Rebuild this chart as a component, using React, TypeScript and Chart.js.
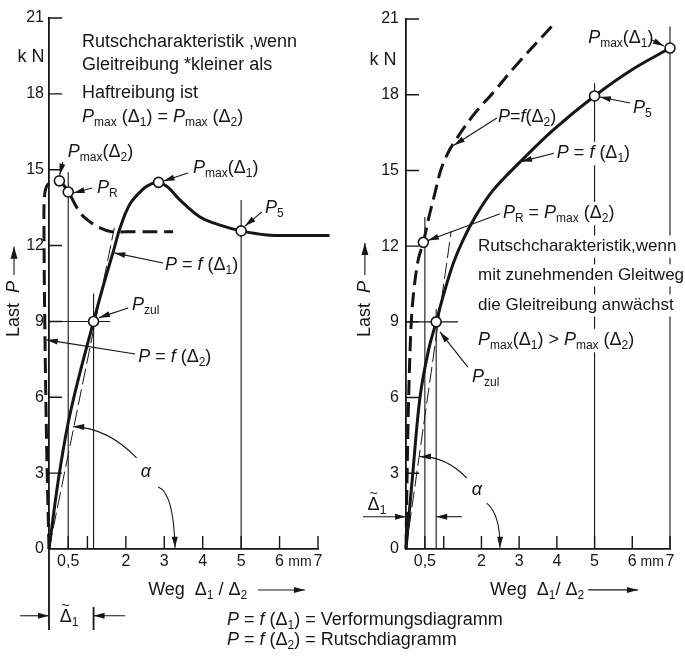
import React, { useEffect, useRef } from "react";
import { Chart, registerables } from "chart.js";
Chart.register(...registerables);

// ---------------- data ----------------
const X_TICKS = [0.5, 1, 2, 3, 4, 5, 6, 7];
const X_TICK_LABELS = ["0,5", "", "2", "3", "4", "5", "6", "7"];
const Y_TICKS = [0, 3, 6, 9, 12, 15, 18, 21];
const Y_TICK_LABELS = ["0", "3", "6", "9", "12", "15", "18", "21"];

// left: Gleitreibung kleiner als Haftreibung
const L_F1_X = [0, 0.24, 0.5, 0.76, 1.16, 1.41, 1.68, 1.85, 2.11, 2.46, 2.65, 2.85, 3.1, 3.41, 3.93, 4.45, 5.0, 5.67, 6.5, 7.3];
const L_F1_Y = [0, 2.7, 5.0, 6.7, 9.0, 10.4, 11.8, 12.7, 13.65, 14.25, 14.43, 14.5, 14.3, 13.8, 13.13, 12.81, 12.58, 12.42, 12.4, 12.4];
const L_F2_X = [0, -0.06, -0.11, -0.13, -0.12, -0.05, 0.1, 0.27, 0.5, 0.81, 1.1, 1.33, 1.6, 2.2, 3.23];
const L_F2_Y = [0, 4, 9, 12.5, 13.9, 14.38, 14.52, 14.56, 14.12, 13.3, 12.9, 12.7, 12.56, 12.55, 12.55];
const L_TAN_X = [0, 1.7];
const L_TAN_Y = [0, 12.7];
const L_PTS_X = [0.27, 0.5, 2.85, 5, 1.16];
const L_PTS_Y = [14.56, 14.12, 14.5, 12.58, 9];
const L_VLINE_X = [0.5, 1.16, 5];
const L_VLINE_TOP = [14.9, 10.1, 13.8];
const L_HLINE = [9, 1.59]; // [P, end of line in mm]

// right: Gleitreibung waechst mit dem Gleitweg
const R_F1_X = [0, 0.18, 0.37, 0.6, 0.8, 1.0, 1.25, 1.5, 1.85, 2.3, 3.0, 3.9, 5.0, 6.0, 7.0, 7.4];
const R_F1_Y = [0, 3, 6, 7.9, 9.0, 10.1, 11.3, 12.2, 13.2, 14.2, 15.3, 16.6, 17.95, 19.0, 19.85, 20.2];
const R_F2_X = [0, 0.03, 0.07, 0.14, 0.22, 0.33, 0.46, 0.6, 0.75, 0.92, 1.08, 1.25, 1.79, 2.32, 2.94, 3.86];
const R_F2_Y = [0, 3, 6, 9, 10.4, 11.5, 12.15, 13.1, 14.0, 15.0, 15.6, 16.05, 17.2, 18.1, 19.2, 20.7];
const R_TAN_X = [0, 1.2];
const R_TAN_Y = [0, 12.6];
const R_PTS_X = [0.8, 0.46, 5, 7];
const R_PTS_Y = [9, 12.15, 17.95, 19.85];
const R_VLINE_X = [0.5, 0.8, 5, 7];
const R_VLINE_TOP = [13.15, 9.5, 18.45, 20.7];
const R_HLINE = [9, 1.38];

// ---------------- styles / layout ----------------
const FONT = '"Liberation Sans", Arial, sans-serif';
const INK = "#161616";
const TXT = 18;

type Lbl = { t: string; x: number; y: number; c?: boolean; k?: boolean; sz?: number; tl?: boolean };
type Arr = { f: number[]; t: number[]; v?: number[] };

const LEFT_LABELS: Lbl[] = [
  { t: "Rutschcharakteristik ,wenn", x: 0.86, y: 20.05 },
  { t: "Gleitreibung *kleiner als", x: 0.86, y: 19.14 },
  { t: "Haftreibung ist", x: 0.86, y: 18.03 },
  { t: "{i:P}{s:max} (Δ{s:1}) = {i:P}{s:max} (Δ{s:2})", x: 0.86, y: 17.08 },
  { t: "{i:P}{s:max}(Δ{s:2})", x: 0.49, y: 15.7 },
  { t: "{i:P}{s:R}", x: 1.25, y: 14.28 },
  { t: "{i:P}{s:max}(Δ{s:1})", x: 3.75, y: 15.07 },
  { t: "{i:P}{s:5}", x: 5.62, y: 13.49 },
  { t: "{i:P} = {i:f} (Δ{s:1})", x: 3.02, y: 11.23 },
  { t: "{i:P}{s:zul}", x: 2.16, y: 9.65 },
  { t: "{i:P} = {i:f} (Δ{s:2})", x: 2.32, y: 7.59 },
  { t: "{i:α}", x: 2.52, y: 3.05, c: true },
  { t: "k N", x: -0.47, y: 19.46, c: true },
  { t: "Δ{s:1}", x: 0.52, y: -2.69, c: true, tl: true },
  { t: "mm", x: 6.53, y: -0.51, c: true, sz: 14 },
  { t: "Weg  Δ{s:1} / Δ{s:2}", x: 2.58, y: -1.62 },
  { t: "{i:P} = {i:f} (Δ{s:1}) = Verformungsdiagramm", x: 4.63, y: -2.81 },
  { t: "{i:P} = {i:f} (Δ{s:2}) = Rutschdiagramm", x: 4.63, y: -3.6 },
];
const LEFT_ARROWS: Arr[] = [
  { f: [0.36, 15.3], t: [0.28, 14.8] },
  { f: [1.12, 14.28], t: [0.64, 14.08] },
  { f: [3.62, 14.87], t: [2.98, 14.55] },
  { f: [5.54, 13.33], t: [5.1, 12.77] },
  { f: [2.97, 11.31], t: [1.7, 11.71] },
  { f: [2.06, 9.53], t: [1.3, 9.15] },
  { f: [2.24, 7.71], t: [-0.06, 8.27] },
  { f: [2.28, 3.6], v: [1.5, 4.5], t: [0.63, 4.84] },
  { f: [2.84, 2.45], v: [3.15, 1.74], t: [3.28, 0.05] },
  { f: [-0.75, -2.64], t: [0, -2.64] },
  { f: [1.98, -2.64], t: [1.16, -2.64] },
  { f: [5.44, -1.62], t: [6.66, -1.62] },
];
const LEFT_EXT = [
  [0, 0, 0, -3.2],
  [1.16, -2.29, 1.16, -3.2],
];

const RIGHT_LABELS: Lbl[] = [
  { t: "{i:P}{s:max}(Δ{s:1})", x: 4.83, y: 20.25 },
  { t: "{i:P}{s:5}", x: 6.02, y: 17.47 },
  { t: "{i:P} = {i:f} (Δ{s:1})", x: 4.0, y: 15.69, k: true },
  { t: "{i:P}={i:f}(Δ{s:2})", x: 2.44, y: 17.12 },
  { t: "{i:P}{s:R} = {i:P}{s:max} (Δ{s:2})", x: 2.57, y: 13.31, k: true },
  { t: "{i:P}{s:zul}", x: 1.75, y: 6.81 },
  { t: "Rutschcharakteristik,wenn", x: 1.91, y: 12.0, k: true, sz: 17 },
  { t: "mit zunehmenden Gleitweg", x: 1.91, y: 10.86, k: true, sz: 17 },
  { t: "die Gleitreibung anwächst", x: 1.91, y: 9.67, k: true, sz: 17 },
  { t: "{i:P}{s:max}(Δ{s:1}) > {i:P}{s:max} (Δ{s:2})", x: 1.91, y: 8.28, k: true },
  { t: "{i:α}", x: 1.88, y: 2.34, c: true },
  { t: "Δ{s:1}", x: -0.77, y: 1.74, c: true, tl: true },
  { t: "k N", x: -0.61, y: 19.37, c: true },
  { t: "mm", x: 6.53, y: -0.51, c: true, sz: 14 },
  { t: "Weg  Δ{s:1}/ Δ{s:2}", x: 2.23, y: -1.62 },
];
const RIGHT_ARROWS: Arr[] = [
  { f: [6.52, 20.17], t: [6.84, 19.93] },
  { f: [5.94, 17.67], t: [5.14, 17.91] },
  { f: [3.95, 15.69], t: [3.05, 15.35] },
  { f: [2.41, 17.08], t: [1.27, 16.0] },
  { f: [2.55, 13.31], t: [0.58, 12.22] },
  { f: [1.64, 7.21], t: [0.9, 8.6] },
  { f: [1.61, 2.81], v: [1.03, 3.45], t: [0.37, 3.66] },
  { f: [2.14, 1.82], v: [2.41, 1.15], t: [2.49, 0.05] },
  { f: [-1.14, 1.28], t: [0, 1.28] },
  { f: [1.48, 1.28], t: [0.8, 1.28] },
  { f: [4.83, -1.62], t: [6.15, -1.62] },
];

type Panel = {
  id: string;
  f1x: number[]; f1y: number[]; f2x: number[]; f2y: number[];
  tx: number[]; ty: number[]; px: number[]; py: number[];
  vx: number[]; vtop: number[]; h: number[];
  pad: { left: number; right: number; top: number; bottom: number };
  yWidth: number; yPad: number;
  labels: Lbl[]; arrows: Arr[]; ext: number[][];
  yTitle: number[]; // x, start, tip
};

const LEFT: Panel = {
  id: "L", f1x: L_F1_X, f1y: L_F1_Y, f2x: L_F2_X, f2y: L_F2_Y,
  tx: L_TAN_X, ty: L_TAN_Y, px: L_PTS_X, py: L_PTS_Y,
  vx: L_VLINE_X, vtop: L_VLINE_TOP, h: L_HLINE,
  pad: { left: 0, right: 367, top: 18, bottom: 0 }, yWidth: 49, yPad: 5,
  labels: LEFT_LABELS, arrows: LEFT_ARROWS, ext: LEFT_EXT,
  yTitle: [-0.91, 8.38, 11.95],
};
const RIGHT: Panel = {
  id: "R", f1x: R_F1_X, f1y: R_F1_Y, f2x: R_F2_X, f2y: R_F2_Y,
  tx: R_TAN_X, ty: R_TAN_Y, px: R_PTS_X, py: R_PTS_Y,
  vx: R_VLINE_X, vtop: R_VLINE_TOP, h: R_HLINE,
  pad: { left: 366, right: 15, top: 19, bottom: 0 }, yWidth: 40, yPad: 7,
  labels: RIGHT_LABELS, arrows: RIGHT_ARROWS, ext: [],
  yTitle: [-1.09, 8.4, 12.12],
};

// ---------------- rich text helpers ----------------
type Seg = { t: string; i?: boolean; s?: boolean };
function parseRich(src: string): Seg[] {
  const out: Seg[] = [];
  const re = /\{([is]):([^}]*)\}/g;
  let last = 0;
  let m: RegExpExecArray | null;
  while ((m = re.exec(src))) {
    if (m.index > last) out.push({ t: src.slice(last, m.index) });
    out.push({ t: m[2], i: m[1] === "i", s: m[1] === "s" });
    last = re.lastIndex;
  }
  if (last < src.length) out.push({ t: src.slice(last) });
  return out;
}
function segFont(s: Seg, size: number) {
  const sz = s.s ? Math.round(size * 0.68) : size;
  return `${s.i ? "italic " : ""}${sz}px ${FONT}`;
}
function drawRich(ctx: CanvasRenderingContext2D, src: string, x: number, y: number, size: number, center = false, knock = false, tilde = false) {
  const segs = parseRich(src);
  let w = 0;
  for (const s of segs) { ctx.font = segFont(s, size); w += ctx.measureText(s.t).width; }
  let cx = center ? x - w / 2 : x;
  if (knock) { ctx.fillStyle = "#fff"; ctx.fillRect(cx - 3, y - size * 0.62, w + 6, size * 1.3); }
  ctx.fillStyle = INK; ctx.textBaseline = "middle"; ctx.textAlign = "left";
  if (tilde) {
    ctx.font = segFont(segs[0], size);
    const gw = ctx.measureText(segs[0].t.charAt(0)).width;
    ctx.font = `${Math.round(size * 0.8)}px ${FONT}`;
    ctx.textAlign = "center";
    ctx.fillText("~", cx + gw / 2, y - size * 0.62);
    ctx.textAlign = "left";
  }
  for (const s of segs) {
    ctx.font = segFont(s, size);
    ctx.fillText(s.t, cx, y + (s.s ? size * 0.33 : 0));
    cx += ctx.measureText(s.t).width;
  }
  return w;
}
function head(ctx: CanvasRenderingContext2D, x: number, y: number, ang: number, len = 11, hw = 3) {
  const bx = x - len * Math.cos(ang), by = y - len * Math.sin(ang);
  const nx = -Math.sin(ang) * hw, ny = Math.cos(ang) * hw;
  ctx.beginPath(); ctx.moveTo(x, y); ctx.lineTo(bx + nx, by + ny); ctx.lineTo(bx - nx, by - ny); ctx.closePath();
  ctx.fillStyle = INK; ctx.fill();
}

function makePlugin(p: Panel) {
  return {
    id: "annot" + p.id,
    beforeDatasetsDraw(chart: any) {
      const ctx: CanvasRenderingContext2D = chart.ctx;
      const X = (v: number) => chart.scales.x.getPixelForValue(v);
      const Y = (v: number) => chart.scales.y.getPixelForValue(v);
      ctx.save();
      ctx.strokeStyle = INK; ctx.lineWidth = 1.4;
      ctx.beginPath();
      for (const t of Y_TICKS) if (t > 0) { ctx.moveTo(X(0), Y(t)); ctx.lineTo(X(0) + 13, Y(t)); }
      for (const t of X_TICKS) { ctx.moveTo(X(t), Y(0)); ctx.lineTo(X(t), Y(0) - 13); }
      ctx.stroke();
      ctx.lineWidth = 1.8;
      ctx.beginPath();
      for (const e of p.ext) { ctx.moveTo(X(e[0]), Y(e[1])); ctx.lineTo(X(e[2]), Y(e[3])); }
      ctx.stroke();
      ctx.restore();
    },
    afterDatasetsDraw(chart: any) {
      const ctx: CanvasRenderingContext2D = chart.ctx;
      const X = (v: number) => chart.scales.x.getPixelForValue(v);
      const Y = (v: number) => chart.scales.y.getPixelForValue(v);
      ctx.save();
      ctx.strokeStyle = INK; ctx.lineWidth = 1.1;
      for (const a of p.arrows) {
        const fx = X(a.f[0]), fy = Y(a.f[1]), tx = X(a.t[0]), ty = Y(a.t[1]);
        ctx.beginPath(); ctx.moveTo(fx, fy);
        let ang;
        if (a.v) {
          const vx = X(a.v[0]), vy = Y(a.v[1]);
          const cx = 2 * vx - (fx + tx) / 2, cy = 2 * vy - (fy + ty) / 2;
          ctx.quadraticCurveTo(cx, cy, tx, ty);
          ang = Math.atan2(ty - cy, tx - cx);
        } else {
          ctx.lineTo(tx, ty);
          ang = Math.atan2(ty - fy, tx - fx);
        }
        ctx.stroke();
        head(ctx, tx, ty, ang);
      }
      for (const l of p.labels) drawRich(ctx, l.t, X(l.x), Y(l.y), l.sz ?? TXT, !!l.c, !!l.k, !!l.tl);
      // y axis title
      const [yx, y0, tip] = p.yTitle;
      ctx.save();
      ctx.translate(X(yx), Y(y0));
      ctx.rotate(-Math.PI / 2);
      const w = drawRich(ctx, "Last  {i:P}", 0, 0, TXT);
      const d = Y(y0) - Y(tip);
      ctx.lineWidth = 1.1;
      ctx.beginPath(); ctx.moveTo(w + 6, 0); ctx.lineTo(d, 0); ctx.stroke();
      head(ctx, d, 0, 0, 12, 3.5);
      ctx.restore();
      ctx.restore();
    },
  };
}

function curve(xs: number[], ys: number[], extra: any) {
  return {
    type: "scatter",
    data: xs.map((x, i) => ({ x, y: ys[i] })),
    showLine: true, pointRadius: 0, pointHoverRadius: 0, clip: false,
    borderColor: INK, backgroundColor: INK, ...extra,
  };
}

function buildConfig(p: Panel): any {
  const datasets: any[] = [];
  datasets.push({
    type: "scatter", data: p.px.map((x, i) => ({ x, y: p.py[i] })), showLine: false,
    pointRadius: 5, pointBorderWidth: 1.6, pointBackgroundColor: "#fff", pointBorderColor: INK, order: 0, clip: false,
  });
  datasets.push(curve(p.f1x, p.f1y, { borderWidth: 3, tension: 0.35, order: 1 }));
  datasets.push(curve(p.f2x, p.f2y, { borderWidth: 3, tension: 0.35, borderDash: [15, 7], order: 1 }));
  datasets.push(curve(p.tx, p.ty, { borderWidth: 1, borderDash: [16, 5], order: 2 }));
  p.vx.forEach((x, i) => datasets.push(curve([x, x], [0, p.vtop[i]], { borderWidth: 1.1, order: 3 })));
  datasets.push(curve([0, p.h[1]], [p.h[0], p.h[0]], { borderWidth: 1.1, order: 3 }));

  return {
    type: "scatter",
    data: { datasets },
    plugins: [makePlugin(p)],
    options: {
      responsive: false, animation: false, devicePixelRatio: 1, events: [],
      layout: { padding: p.pad, autoPadding: false },
      plugins: { legend: { display: false }, tooltip: { enabled: false } },
      scales: {
        x: {
          type: "linear", min: 0, max: 7,
          afterBuildTicks: (s: any) => { s.ticks = X_TICKS.map((v) => ({ value: v })); },
          afterFit: (s: any) => { s.height = 110; },
          ticks: {
            autoSkip: false, maxRotation: 0, padding: 3, color: INK, font: { family: FONT, size: 16 },
            callback: (v: number) => X_TICK_LABELS[X_TICKS.indexOf(v)] ?? "",
          },
          grid: { display: false, drawTicks: false },
          border: { display: true, color: INK, width: 1.8 },
        },
        y: {
          type: "linear", min: 0, max: 21,
          afterBuildTicks: (s: any) => { s.ticks = Y_TICKS.map((v) => ({ value: v })); },
          afterFit: (s: any) => { s.width = p.yWidth; },
          ticks: {
            padding: p.yPad, color: INK, font: { family: FONT, size: 16 },
            callback: (v: number) => Y_TICK_LABELS[Y_TICKS.indexOf(v)] ?? "",
          },
          grid: { display: false, drawTicks: false },
          border: { display: true, color: INK, width: 1.8 },
        },
      },
    },
  };
}

export default function App() {
  const leftRef = useRef<HTMLCanvasElement>(null);
  const rightRef = useRef<HTMLCanvasElement>(null);
  useEffect(() => {
    const c1 = new Chart(leftRef.current as HTMLCanvasElement, buildConfig(LEFT));
    const c2 = new Chart(rightRef.current as HTMLCanvasElement, buildConfig(RIGHT));
    return () => { c1.destroy(); c2.destroy(); };
  }, []);
  return (
    <div style={{ position: "fixed", left: 0, top: 0, width: 685, height: 659, background: "#fff" }}>
      <canvas ref={leftRef} width={685} height={659} style={{ position: "absolute", left: 0, top: 0 }} />
      <canvas ref={rightRef} width={685} height={659} style={{ position: "absolute", left: 0, top: 0 }} />
    </div>
  );
}
